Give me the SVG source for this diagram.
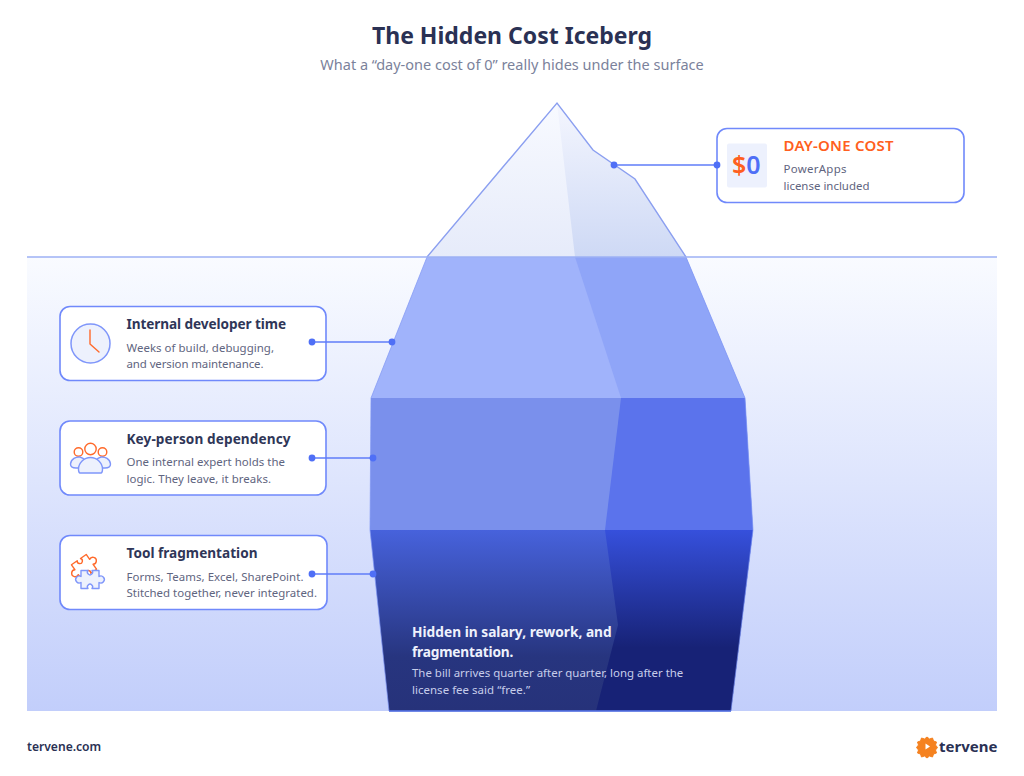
<svg xmlns="http://www.w3.org/2000/svg" width="1024" height="776" viewBox="0 0 1024 776">
<style>
text{font-family:"Noto Sans","Open Sans","Liberation Sans",sans-serif}
.card{fill:#fff;stroke:#7089fb;stroke-width:1.6}
.h{font-size:13.6px;font-weight:700;fill:#2f3658}
.b{font-size:11.45px;fill:#5f6580}
.ln{stroke:#5f7cf8;stroke-width:1.4;fill:none}
.dot{fill:#4f6ff6}
.or{fill:none;stroke:#ff6a2b;stroke-width:1.4;stroke-linecap:round;stroke-linejoin:round}
.bl{fill:#edf1fd;stroke:#7f96fa;stroke-width:1.4;stroke-linejoin:round}
.orp{fill:#fff;stroke:#ff6a2b;stroke-width:1.4;stroke-linejoin:round}
</style>
<defs>
<linearGradient id="sea" x1="0" y1="0" x2="0" y2="1"><stop offset="0" stop-color="#f9fbff"/><stop offset="1" stop-color="#c2cefb"/></linearGradient>
<linearGradient id="tip" x1="0" y1="0" x2="0" y2="1"><stop offset="0" stop-color="#f8faff"/><stop offset="1" stop-color="#e6ebfa"/></linearGradient>
<linearGradient id="tipR" x1="0" y1="0" x2="0" y2="1"><stop offset="0" stop-color="#f4f6fe"/><stop offset="1" stop-color="#ced9f5"/></linearGradient>
<linearGradient id="deep" x1="0" y1="0" x2="0" y2="1"><stop offset="0" stop-color="#4762dc"/><stop offset="0.7" stop-color="#27357f"/><stop offset="1" stop-color="#26327a"/></linearGradient>
<linearGradient id="deepR" x1="0" y1="0" x2="0" y2="1"><stop offset="0" stop-color="#3650dc"/><stop offset="0.65" stop-color="#172276"/><stop offset="1" stop-color="#172276"/></linearGradient>
<path id="piece" d="M-9-9H-2A2.600 2.600 0 1 0 2-9H9V-3A3.500 3.500 0 1 1 9 3V9H2A2.600 2.600 0 1 0-2 9H-9V3A3.500 3.500 0 1 1-9-3Z"/>
</defs>
<rect width="1024" height="776" fill="#fff"/>
<text x="512" y="44" text-anchor="middle" font-size="23" font-weight="700" fill="#2a3154">The Hidden Cost Iceberg</text>
<text x="512" y="70" text-anchor="middle" font-size="14.5" fill="#7b829b">What a “day-one cost of 0” really hides under the surface</text>
<rect x="27" y="257" width="970" height="454" fill="url(#sea)"/>
<g id="iceberg">
<polygon points="557,103 593,150 635,179 686,257 427,257" fill="url(#tip)"/>
<polygon points="557,103 593,150 635,179 686,257 575,257" fill="url(#tipR)"/>
<polygon points="427,257 686,257 745,398 371,398" fill="#a0b3fb"/>
<polygon points="575,257 686,257 745,398 621,398" fill="#8fa5f8"/>
<polygon points="371,398 745,398 753,530 370,530" fill="#7a90ec"/>
<polygon points="621,398 745,398 753,530 605,530" fill="#5b73ec"/>
<polygon points="370,530 753,530 731,711 389,711" fill="url(#deep)"/>
<polygon points="605,530 753,530 731,711 596,711 618,625" fill="url(#deepR)"/>
<polyline points="427,257 557,103 593,150 635,179 686,257" fill="none" stroke="#8b9ff0" stroke-width="1.4"/>
<polyline points="427,257 371,398 370,530 389,711 731,711 753,530 745,398 686,257" fill="none" stroke="#7f96f3" stroke-width="1" opacity=".7"/>
<line x1="389" y1="711" x2="731" y2="711" stroke="#4f6ce0" stroke-width="1.4"/>
</g>
<line x1="27" y1="257" x2="997" y2="257" stroke="#9db0f5" stroke-width="1.3"/>
<g id="node-dayone">
<rect class="card" x="717" y="128.500" width="247" height="74" rx="10"/>
<rect x="727" y="143.500" width="40" height="44" rx="2" fill="#edf1fd"/>
<text x="732" y="174" font-size="25" font-weight="600" fill="#ff5f20">$<tspan fill="#4f6ff6">0</tspan></text>
<text x="783.500" y="150.500" font-size="15" font-weight="600" fill="#ff5f20" textLength="110">DAY-ONE COST</text>
<text class="b" x="783.500" y="173" textLength="63">PowerApps</text>
<text class="b" x="783.500" y="190" textLength="86">license included</text>
</g>
<g id="node-dev">
<rect class="card" x="60" y="306.500" width="266" height="74" rx="10"/>
<circle cx="90.500" cy="343.500" r="19.500" fill="#edf1fd" stroke="#7f96fa" stroke-width="1.5"/>
<polyline class="or" points="90,330 90,344 99,352"/>
<text class="h" x="126.500" y="329" textLength="159.500">Internal developer time</text>
<text class="b" x="126.500" y="351.500" textLength="147.500">Weeks of build, debugging,</text>
<text class="b" x="126.500" y="368" textLength="137">and version maintenance.</text>
</g>
<g id="node-key">
<rect class="card" x="60" y="421" width="266" height="74" rx="10"/>
<circle class="or" cx="78.500" cy="452" r="4.300"/><circle class="or" cx="90.500" cy="449" r="5.700"/><circle class="or" cx="102.500" cy="452" r="4.300"/>
<path class="bl" d="M76 468C71 468 70.500 466 70.500 464C71 459 76 456.500 80 457C84 458 88 462 88 468ZM105 468C110 468 110.500 466 110.500 464C110 459 105 456.500 101 457C97 458 93 462 93 468Z"/>
<path class="bl" d="M80 473C78.500 473 78.500 471 78.500 469C78.500 463 84 457.500 90.500 457.500C97 457.500 102.500 463 102.500 469C102.500 471 102.500 473 101 473Z"/>
<text class="h" x="126.500" y="443.500" textLength="164">Key-person dependency</text>
<text class="b" x="126.500" y="466" textLength="158.500">One internal expert holds the</text>
<text class="b" x="126.500" y="482.500" textLength="144.500">logic. They leave, it breaks.</text>
</g>
<g id="node-tool">
<rect class="card" x="60" y="535.500" width="267" height="74" rx="10"/>
<use href="#piece" class="orp" transform="translate(84 567) rotate(-35)"/>
<use href="#piece" class="bl" transform="translate(90 579.500)"/>
<text class="h" x="126.500" y="558" textLength="131">Tool fragmentation</text>
<text class="b" x="126.500" y="580.500" textLength="177">Forms, Teams, Excel, SharePoint.</text>
<text class="b" x="126.500" y="597" textLength="190.500">Stitched together, never integrated.</text>
</g>
<g id="connectors">
<line class="ln" x1="614" y1="165" x2="717" y2="165"/><circle class="dot" cx="614" cy="165" r="3.4"/><circle class="dot" cx="717" cy="165" r="3.4"/>
<line class="ln" x1="312" y1="342" x2="392" y2="342"/>
<line class="ln" x1="312" y1="458" x2="373" y2="458"/>
<line class="ln" x1="312" y1="574" x2="373" y2="574"/>
<circle class="dot" cx="312" cy="342" r="3.400"/><circle class="dot" cx="392" cy="342" r="3.400"/>
<circle class="dot" cx="312" cy="458" r="3.400"/><circle class="dot" cx="373" cy="458" r="3.400"/>
<circle class="dot" cx="312" cy="574" r="3.400"/><circle class="dot" cx="373" cy="574" r="3.400"/>
</g>
<g id="node-hidden">
<text x="412" y="637" font-size="13.700" font-weight="700" fill="#eef1fc" textLength="199.700">Hidden in salary, rework, and</text>
<text x="412" y="657" font-size="13.700" font-weight="700" fill="#eef1fc" textLength="101.300">fragmentation.</text>
<text x="412" y="677" font-size="11.450" fill="#c6cdea" textLength="271.300">The bill arrives quarter after quarter, long after the</text>
<text x="412" y="694" font-size="11.450" fill="#c6cdea" textLength="118">license fee said “free.”</text>
</g>
<text x="27" y="751" font-size="12.100" font-weight="600" fill="#2a3154">tervene.com</text>
<g id="logo">
<path d="M927 737l2.500 2 3-1 1 3 3 1-1 3 2 2.500-2 2.500 1 3-3 1-1 3-3-1-2.500 2-2.500-2-3 1-1-3-3-1 1-3-2-2.500 2-2.500-1-3 3-1 1-3 3 1z" fill="#f58220" stroke="#f58220" stroke-width="1" stroke-linejoin="round"/>
<path d="M925.500 743.500l4.500 3-4.500 3z" fill="#fff"/>
<text x="939" y="751.500" font-size="15" font-weight="700" fill="#2a3154">tervene</text>
</g>
</svg>
